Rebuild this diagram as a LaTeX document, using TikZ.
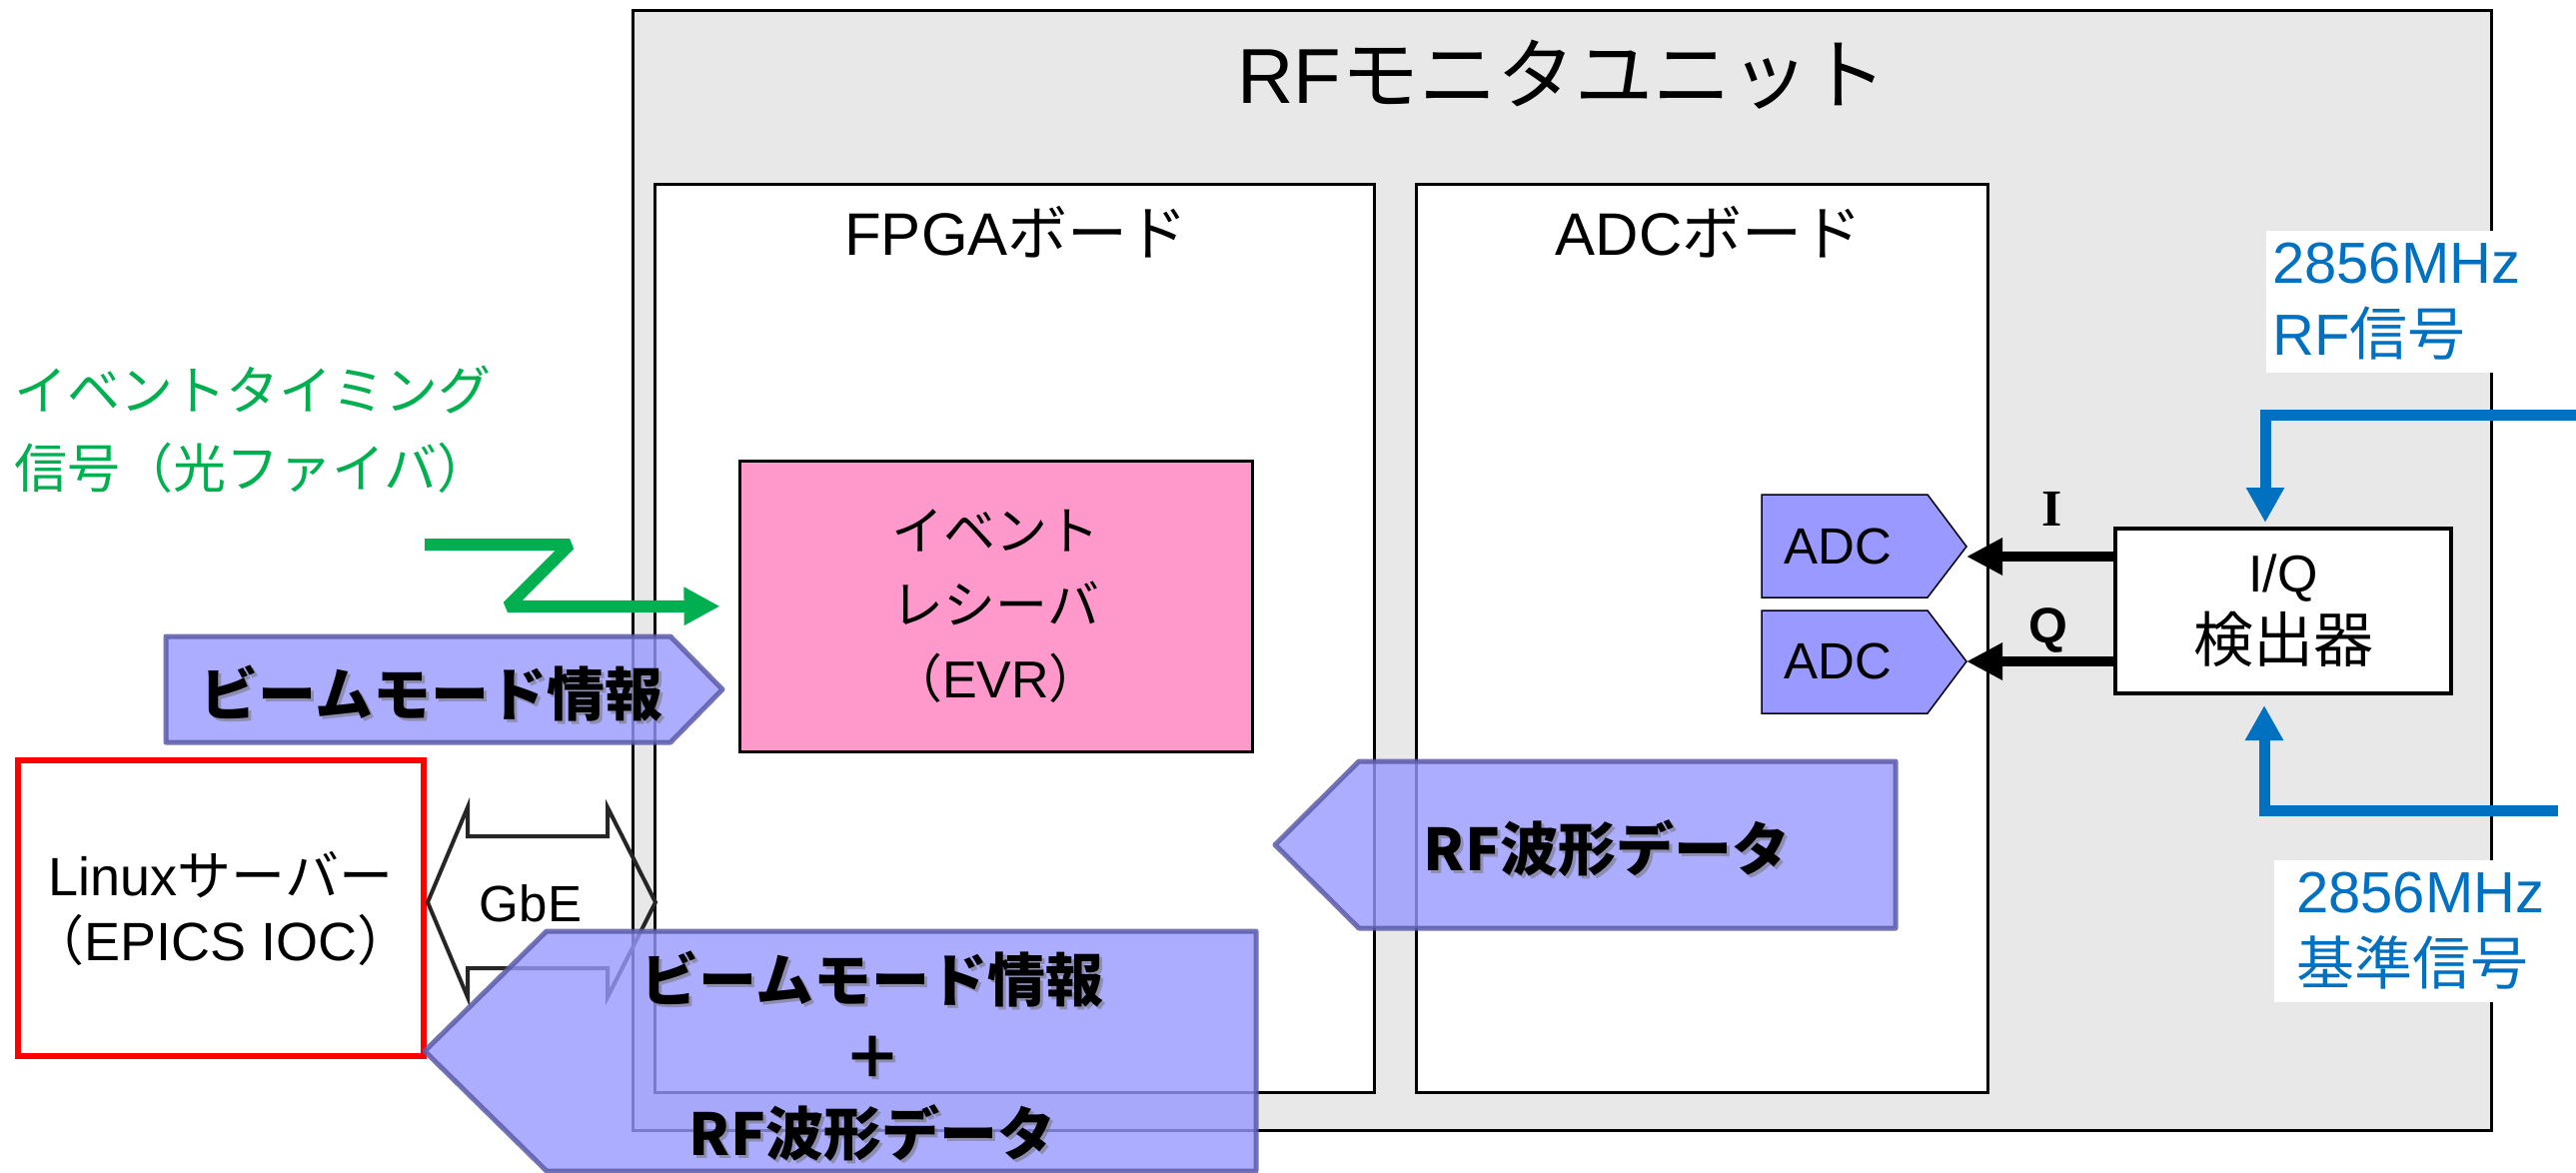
\documentclass[tikz,border=0pt]{standalone}
\usepackage{fontspec}
\setmainfont{Liberation Sans}
\newfontfamily\jp{Noto Sans CJK JP}
\newfontfamily\serifb{Liberation Serif}
\usetikzlibrary{arrows.meta}
\definecolor{boxgray}{HTML}{E8E8E8}
\definecolor{evrpink}{HTML}{FF99CC}
\definecolor{adcblue}{HTML}{9999FF}
\definecolor{flowfill}{HTML}{9999FF}
\definecolor{flowdraw}{HTML}{5B5BAA}
\definecolor{sigblue}{HTML}{0070C0}
\definecolor{evgreen}{HTML}{00B050}
\definecolor{gbegray}{HTML}{262626}
\begin{document}
\begin{tikzpicture}[x=1pt,y=-1pt,
  unitbox/.style={draw=black,line width=3pt,fill=boxgray,inner sep=0},
  boardbox/.style={draw=black,line width=3pt,fill=white,inner sep=0},
  lbl/.style={inner sep=0,font=\fontsize{60}{72}\selectfont},
  flow/.style={fill=flowfill,fill opacity=0.8,draw=flowdraw,draw opacity=0.85,line width=5pt,line join=round},
  flowtxt/.style={inner sep=0,align=center,font=\jp\bfseries\fontsize{58}{77}\selectfont},
  flowsh/.style={flowtxt,text=black!55,text opacity=0.55,xshift=3pt,yshift=-3pt},
  adcshape/.style={fill=adcblue,draw=black,line width=1.5pt},
  qarrow/.style={line width=10pt,-{Triangle[length=36pt,width=35pt]}},
  rfarrow/.style={draw=sigblue,line width=11pt,-{Triangle[length=35pt,width=36pt]}},
  fiber/.style={draw=evgreen,line width=12pt,line join=bevel,-{Triangle[length=36pt,width=36pt]}},
  bluelbl/.style={fill=white,text=sigblue,align=left,font=\fontsize{58}{72}\selectfont},
]
\useasboundingbox (0,0) rectangle (2578,1173);
\fill[white] (0,0) rectangle (2578,1173);

% RF monitor unit and boards
\node[unitbox,minimum width=1860pt,minimum height=1121pt] (unit) at (1563.5,571) {};
\node[lbl,font=\fontsize{78}{90}\selectfont] (title) at (1563,75) {RF{\jp モニタユニット}};
\node[boardbox,minimum width=720pt,minimum height=909pt] (fpga) at (1015,638.5) {};
\node[boardbox,minimum width=572pt,minimum height=909pt] (adcb) at (1703,638.5) {};
\node[lbl] (fpgalbl) at (1017,232) {FPGA{\jp ボード}};
\node[lbl] (adclbl) at (1710,232) {ADC{\jp ボード}};

% EVR
\node[draw=black,line width=3pt,fill=evrpink,minimum width=513pt,minimum height=290.5pt,align=center,font=\jp\fontsize{52}{74}\selectfont] (evr) at (996.5,606.75) {イベント\\レシーバ\\（{\rmfamily EVR}）};

% Linux server
\node[draw=red,line width=6pt,fill=white,minimum width=406pt,minimum height=296pt,align=center,font=\fontsize{54}{65}\selectfont] (linux) at (221,909) {Linux{\jp サーバー}\\{\jp （}EPICS IOC{\jp ）}};

% GbE
\draw[draw=gbegray,line width=4pt,line join=miter] (428,903) -- (468,808) -- (468,837) -- (608,837) -- (608,808) -- (656,903) -- (608,998) -- (608,969) -- (468,969) -- (468,998) -- cycle;
\node[inner sep=0,font=\fontsize{51}{60}\selectfont] (gbe) at (531,904) {GbE};

% event timing signal
\node[anchor=west,inner sep=0,align=left,text=evgreen,font=\jp\fontsize{53}{78}\selectfont] (evtlbl) at (14,430) {イベントタイミング\\信号（光ファイバ）};
\coordinate (fiberin) at (425,545);
\draw[fiber] (fiberin) -- (570,545) -- (508,607) -- ([xshift=-18pt]evr.west);

% ADCs
\path[adcshape] (1763,495) -- (1929,495) -- (1968,547) -- (1929,598) -- (1763,598) -- cycle;
\node[inner sep=0,font=\fontsize{51}{60}\selectfont] (adc1) at (1839,547) {ADC};
\path[adcshape] (1763,611) -- (1929,611) -- (1968,662) -- (1929,714) -- (1763,714) -- cycle;
\node[inner sep=0,font=\fontsize{51}{60}\selectfont] (adc2) at (1839,662) {ADC};
\coordinate (adc1in) at (1968,557);
\coordinate (adc2in) at (1968,662);

% I/Q detector
\node[draw=black,line width=4pt,fill=white,minimum width=336pt,minimum height=165pt,align=center,font=\fontsize{52}{70}\selectfont] (iq) at (2285,611.5) {I/Q\\{\jp\fontsize{60}{70}\selectfont 検出器}};
\draw[qarrow] (iq.west |- adc1in) -- (adc1in);
\draw[qarrow] (iq.west |- adc2in) -- (adc2in);
\node[inner sep=0,font=\serifb\bfseries\fontsize{52}{60}\selectfont] (ilbl) at (2054,509) {I};
\node[inner sep=0,font=\bfseries\fontsize{50}{60}\selectfont] (qlbl) at (2050,631) {Q};

% RF inputs
\node[bluelbl,anchor=west,inner xsep=6pt,inner ysep=12pt] (rflbl) at (2268,302) {2856MHz\\RF{\jp 信号}};
\node[bluelbl,anchor=west,inner xsep=22pt,inner ysep=12pt] (reflbl) at (2276,932) {2856MHz\\{\jp 基準信号}};
\coordinate (rfsrc) at (2578,415);
\coordinate (refsrc) at (2560,811);
\draw[rfarrow] (rfsrc) -| ([xshift=-18pt,yshift=4pt]iq.north);
\draw[rfarrow] (refsrc) -| ([xshift=-19pt,yshift=-10pt]iq.south);

% data flows
\path[flow] (166,637) -- (671,637) -- (723,690) -- (671,743) -- (166,743) -- cycle;
\path[flow] (1360,762) -- (1897,762) -- (1897,929) -- (1360,929) -- (1276,845.5) -- cycle;
\path[flow] (547,932) -- (1257,932) -- (1257,1172) -- (547,1172) -- (425,1052) -- cycle;
\node[flowsh] (beamsh) at (432,694) {ビームモード情報};
\node[flowtxt] (beam) at (432,694) {ビームモード情報};
\node[flowsh] (rfwsh) at (1608,849) {RF波形データ};
\node[flowtxt] (rfw) at (1608,849) {RF波形データ};
\node[flowsh] (mergedsh) at (873,1057) {ビームモード情報\\＋\\RF波形データ};
\node[flowtxt] (merged) at (873,1057) {ビームモード情報\\＋\\RF波形データ};
\end{tikzpicture}
\end{document}
